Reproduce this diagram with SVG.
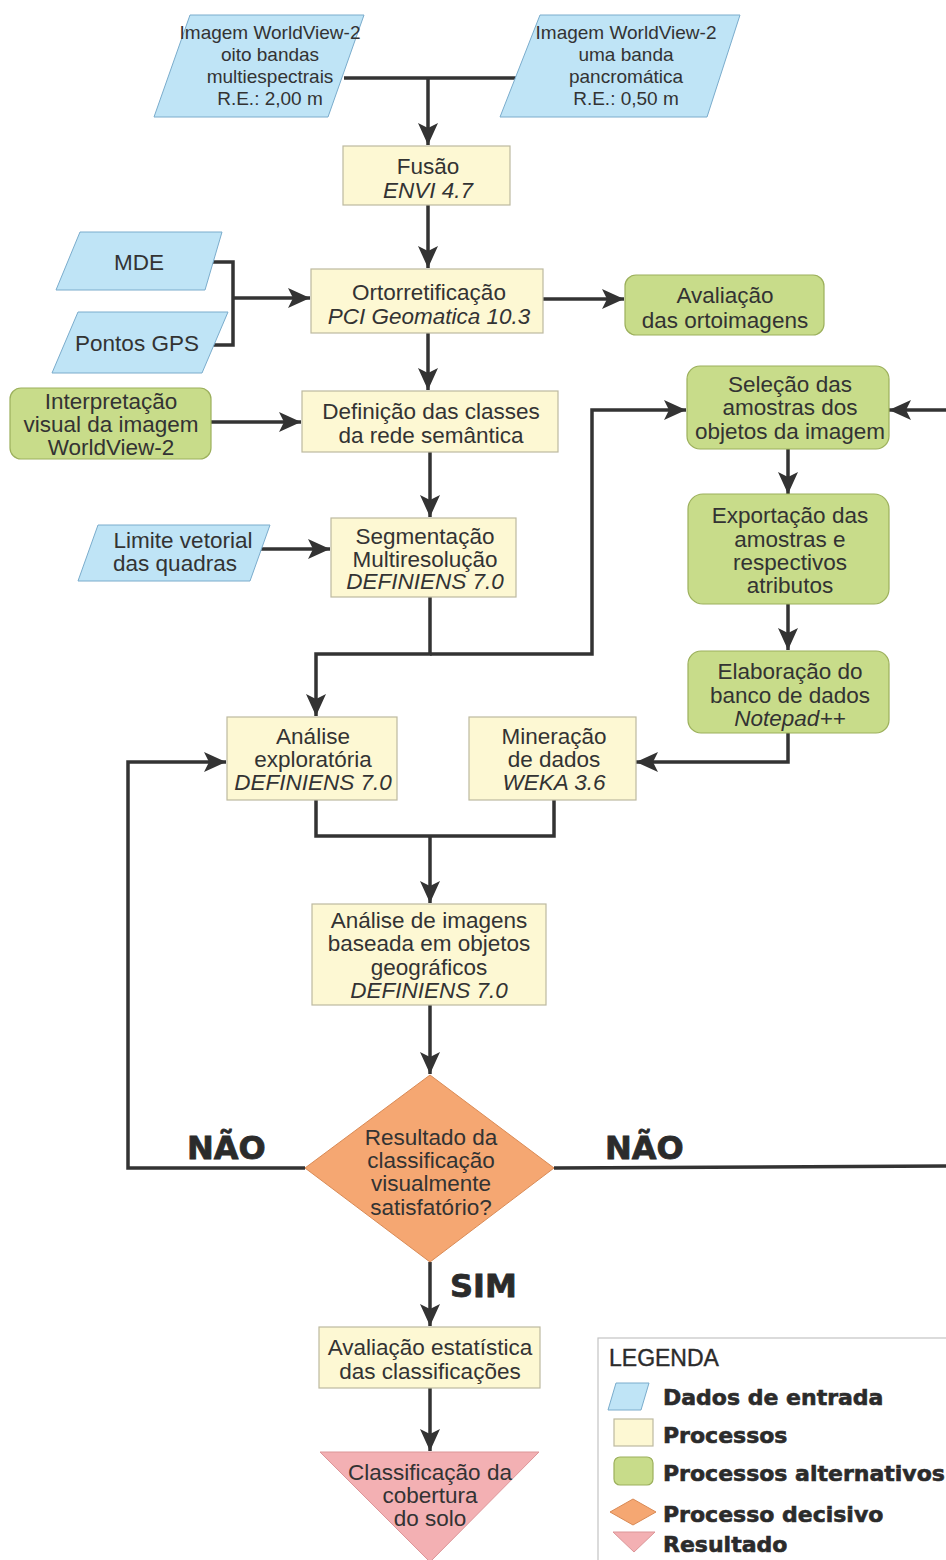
<svg xmlns="http://www.w3.org/2000/svg" width="946" height="1560" viewBox="0 0 946 1560">
  <defs>
    <marker id="arrow" markerUnits="userSpaceOnUse" markerWidth="24" markerHeight="22" refX="22" refY="10" orient="auto">
      <path d="M0,0 L22,10 L0,20 L5,10 z" fill="#333"/>
    </marker>
    <style>
      text { font-family: "Liberation Sans", Arial, sans-serif; font-size: 22.5px; fill: #333; text-anchor: middle; }
      .sm { font-size: 19px; }
      .it { font-style: italic; }
      .data { fill: #bfe4f6; stroke: #7aaccc; stroke-width: 1; }
      .proc { fill: #fdf8d3; stroke: #bdb9a0; stroke-width: 1.2; }
      .alt { fill: #c8dc8a; stroke: #9cb05c; stroke-width: 1.2; }
      .dec { fill: #f5a772; stroke: #d98a55; stroke-width: 1; }
      .res { fill: #f3b0b3; stroke: #dc9598; stroke-width: 1; }
      .conn path, .conn line, .conn polyline { fill: none; stroke: #333; stroke-width: 3.5; }
      .heavy { font-family: "DejaVu Sans", Verdana, sans-serif; font-weight: bold; font-size: 22px; text-anchor: start; fill: #2b2b2b; stroke: #2b2b2b; stroke-width: 0.6; }
      .big { font-size: 32px; stroke-width: 0.8; }
      .title { text-anchor: start; font-size: 23px; fill: #2b2b2b; stroke: #2b2b2b; stroke-width: 0.4; }
    </style>
  </defs>

  <rect width="946" height="1560" fill="#ffffff"/>

  <!-- connectors -->
  <g class="conn" id="connectors">
    <line x1="344" y1="78" x2="520" y2="78"/>
    <line x1="428" y1="78" x2="428" y2="145" marker-end="url(#arrow)"/>
    <line x1="428" y1="205" x2="428" y2="268" marker-end="url(#arrow)"/>
    <polyline points="212,262 233,262 233,345 210,345"/>
    <line x1="233" y1="298" x2="310" y2="298" marker-end="url(#arrow)"/>
    <line x1="543" y1="299" x2="624" y2="299" marker-end="url(#arrow)"/>
    <line x1="428" y1="333" x2="428" y2="390" marker-end="url(#arrow)"/>
    <line x1="211" y1="422" x2="301" y2="422" marker-end="url(#arrow)"/>
    <line x1="430" y1="452" x2="430" y2="517" marker-end="url(#arrow)"/>
    <line x1="257" y1="549" x2="330" y2="549" marker-end="url(#arrow)"/>
    <polyline points="430,597 430,654 316,654 316,716" marker-end="url(#arrow)"/>
    <polyline points="430,654 592,654 592,410 686,410" marker-end="url(#arrow)"/>
    <line x1="950" y1="410" x2="889" y2="410" marker-end="url(#arrow)"/>
    <line x1="788" y1="449" x2="788" y2="494" marker-end="url(#arrow)"/>
    <line x1="788" y1="604" x2="788" y2="650" marker-end="url(#arrow)"/>
    <polyline points="788,733 788,762 636,762" marker-end="url(#arrow)"/>
    <polyline points="316,800 316,836 554,836 554,800"/>
    <line x1="430" y1="836" x2="430" y2="903" marker-end="url(#arrow)"/>
    <line x1="430" y1="1005" x2="430" y2="1074" marker-end="url(#arrow)"/>
    <polyline points="305,1168 128,1168 128,762 226,762" marker-end="url(#arrow)"/>
    <line x1="554" y1="1168" x2="950" y2="1166"/>
    <line x1="430" y1="1262" x2="430" y2="1326" marker-end="url(#arrow)"/>
    <line x1="430" y1="1388" x2="430" y2="1451" marker-end="url(#arrow)"/>
  </g>

  <!-- input data -->
  <g id="wv2-multi">
    <polygon class="data" points="190,15 364,15 328,117 154,117"/>
    <text class="sm" x="270" y="39">Imagem WorldView-2</text>
    <text class="sm" x="270" y="61">oito bandas</text>
    <text class="sm" x="270" y="83">multiespectrais</text>
    <text class="sm" x="270" y="105">R.E.: 2,00 m</text>
  </g>
  <g id="wv2-pan">
    <polygon class="data" points="540,15 740,15 707,117 500,117"/>
    <text class="sm" x="626" y="39">Imagem WorldView-2</text>
    <text class="sm" x="626" y="61">uma banda</text>
    <text class="sm" x="626" y="83">pancromática</text>
    <text class="sm" x="626" y="105">R.E.: 0,50 m</text>
  </g>
  <g id="mde">
    <polygon class="data" points="80,232 222,232 205,290 56,290"/>
    <text x="139" y="270">MDE</text>
  </g>
  <g id="gps">
    <polygon class="data" points="78,312 228,312 202,373 52,373"/>
    <text x="137" y="351">Pontos GPS</text>
  </g>
  <g id="limite">
    <polygon class="data" points="98,525 270,525 250,581 78,581"/>
    <text x="183" y="548">Limite vetorial</text>
    <text x="175" y="571">das quadras</text>
  </g>

  <!-- processes -->
  <g id="fusao">
    <rect class="proc" x="343" y="146" width="167" height="59"/>
    <text x="428" y="174">Fusão</text>
    <text class="it" x="428" y="198">ENVI 4.7</text>
  </g>
  <g id="orto">
    <rect class="proc" x="311" y="269" width="232" height="64"/>
    <text x="429" y="300">Ortorretificação</text>
    <text class="it" x="429" y="324">PCI Geomatica 10.3</text>
  </g>
  <g id="definicao">
    <rect class="proc" x="302" y="391" width="256" height="61"/>
    <text x="431" y="419">Definição das classes</text>
    <text x="431" y="443">da rede semântica</text>
  </g>
  <g id="segmentacao">
    <rect class="proc" x="331" y="518" width="185" height="79"/>
    <text x="425" y="544">Segmentação</text>
    <text x="425" y="567">Multiresolução</text>
    <text class="it" x="425" y="589">DEFINIENS 7.0</text>
  </g>
  <g id="exploratoria">
    <rect class="proc" x="227" y="717" width="170" height="83"/>
    <text x="313" y="744">Análise</text>
    <text x="313" y="767">exploratória</text>
    <text class="it" x="313" y="790">DEFINIENS 7.0</text>
  </g>
  <g id="mineracao">
    <rect class="proc" x="469" y="717" width="167" height="83"/>
    <text x="554" y="744">Mineração</text>
    <text x="554" y="767">de dados</text>
    <text class="it" x="554" y="790">WEKA 3.6</text>
  </g>
  <g id="analise-obia">
    <rect class="proc" x="312" y="904" width="234" height="101"/>
    <text x="429" y="928">Análise de imagens</text>
    <text x="429" y="951">baseada em objetos</text>
    <text x="429" y="975">geográficos</text>
    <text class="it" x="429" y="998">DEFINIENS 7.0</text>
  </g>
  <g id="estatistica">
    <rect class="proc" x="319" y="1327" width="221" height="61"/>
    <text x="430" y="1355">Avaliação estatística</text>
    <text x="430" y="1379">das classificações</text>
  </g>

  <!-- alternative processes -->
  <g id="avaliacao-orto">
    <rect class="alt" x="625" y="275" width="199" height="60" rx="11"/>
    <text x="725" y="303">Avaliação</text>
    <text x="725" y="328">das ortoimagens</text>
  </g>
  <g id="interpretacao">
    <rect class="alt" x="10" y="388" width="201" height="71" rx="11"/>
    <text x="111" y="409">Interpretação</text>
    <text x="111" y="432">visual da imagem</text>
    <text x="111" y="455">WorldView-2</text>
  </g>
  <g id="selecao">
    <rect class="alt" x="687" y="366" width="202" height="83" rx="13"/>
    <text x="790" y="392">Seleção das</text>
    <text x="790" y="415">amostras dos</text>
    <text x="790" y="439">objetos da imagem</text>
  </g>
  <g id="exportacao">
    <rect class="alt" x="688" y="494" width="201" height="110" rx="15"/>
    <text x="790" y="523">Exportação das</text>
    <text x="790" y="547">amostras e</text>
    <text x="790" y="570">respectivos</text>
    <text x="790" y="593">atributos</text>
  </g>
  <g id="elaboracao">
    <rect class="alt" x="688" y="651" width="201" height="82" rx="13"/>
    <text x="790" y="679">Elaboração do</text>
    <text x="790" y="703">banco de dados</text>
    <text class="it" x="790" y="726">Notepad++</text>
  </g>

  <!-- decision -->
  <g id="decisao">
    <polygon class="dec" points="430,1075 554,1168 430,1262 305,1168"/>
    <text x="431" y="1145">Resultado da</text>
    <text x="431" y="1168">classificação</text>
    <text x="431" y="1191">visualmente</text>
    <text x="431" y="1215">satisfatório?</text>
  </g>
  <g id="rotulos">
    <text class="heavy big" x="187" y="1159">NÃO</text>
    <text class="heavy big" x="605" y="1159">NÃO</text>
    <text class="heavy big" x="450" y="1297">SIM</text>
  </g>

  <!-- result -->
  <g id="resultado">
    <polygon class="res" points="320,1452 539,1452 430,1562"/>
    <text x="430" y="1480">Classificação da</text>
    <text x="430" y="1503">cobertura</text>
    <text x="430" y="1526">do solo</text>
  </g>

  <!-- legend -->
  <g id="legenda">
    <rect x="598" y="1338" width="360" height="240" fill="#ffffff" stroke="#c4c4c4" stroke-width="1.2"/>
    <text class="title" x="609" y="1366">LEGENDA</text>
    <polygon class="data" points="616,1383 649,1383 641,1410 608,1410"/>
    <text class="heavy" x="663" y="1405">Dados de entrada</text>
    <rect class="proc" x="614" y="1419" width="39" height="27"/>
    <text class="heavy" x="663" y="1443">Processos</text>
    <rect class="alt" x="614" y="1457" width="39" height="28" rx="6"/>
    <text class="heavy" x="663" y="1481">Processos alternativos</text>
    <polygon class="dec" points="633,1499 656,1512 633,1525 610,1512"/>
    <text class="heavy" x="663" y="1522">Processo decisivo</text>
    <polygon class="res" points="613,1532 655,1532 634,1552"/>
    <text class="heavy" x="663" y="1552">Resultado</text>
  </g>
</svg>
